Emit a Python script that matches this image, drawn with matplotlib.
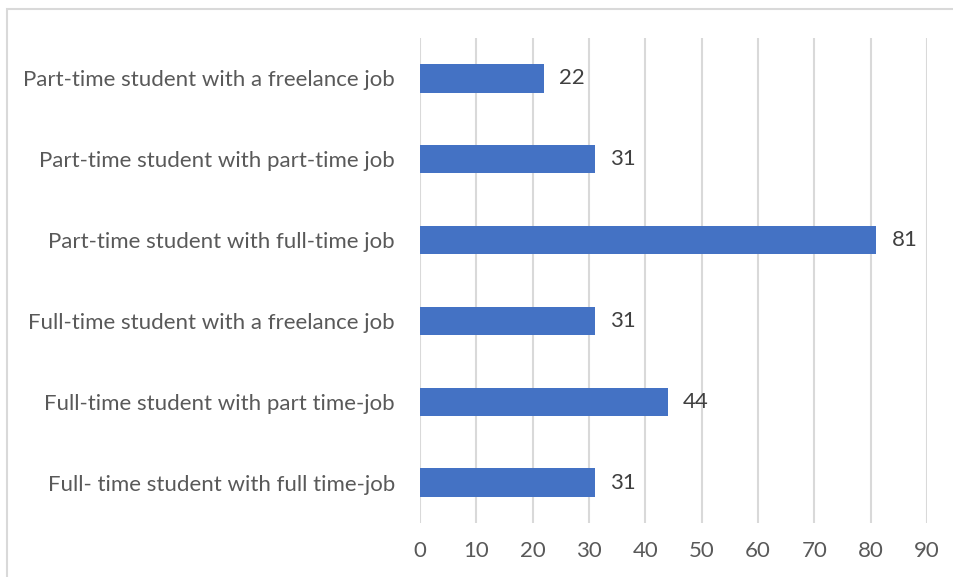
import matplotlib.pyplot as plt
from matplotlib.patches import Rectangle

categories = [
    "Full- time student with full time-job",
    "Full-time student with part time-job",
    "Full-time student with a freelance job",
    "Part-time student with full-time job",
    "Part-time student with part-time job",
    "Part-time student with a freelance job",
]
counts = [31, 44, 31, 81, 31, 22]
xticks = list(range(0, 100, 10))

plt.rcParams['font.family'] = ['Lato', 'DejaVu Sans']
text_color = "#595959"
bar_color = "#4472C4"
grid_color = "#D9D9D9"

fig = plt.figure(figsize=(9.54, 5.77), dpi=100)
ax = fig.add_axes([420/954, 1-523/577, 507/954, 485/577])

ypos = list(range(len(categories)))
ax.barh(ypos, counts, height=0.35, color=bar_color, zorder=3)
for y, v in zip(ypos, counts):
    ax.annotate(str(v), (v, y), xytext=(11, 0), textcoords="offset points",
                va="center", ha="left", fontsize=16, color="#404040")

ax.set_xlim(0, 90)
ax.set_ylim(-0.5, len(categories) - 0.5)
ax.set_xticks(xticks)
ax.set_yticks(ypos)
ax.set_yticklabels(categories)
ax.tick_params(axis="both", length=0, colors=text_color, labelsize=16)
ax.tick_params(axis="y", pad=18)
ax.tick_params(axis="x", pad=13)
ax.grid(axis="x", color=grid_color, linewidth=1.5, zorder=0)
for s in ax.spines.values():
    s.set_visible(False)

# light frame around the chart area
fig.patches.append(Rectangle((7/954, -0.1), 1.2, 1.1 - 9/577, transform=fig.transFigure,
                             fill=False, edgecolor=grid_color, linewidth=1.5))

fig.savefig("out.png", dpi=100)
